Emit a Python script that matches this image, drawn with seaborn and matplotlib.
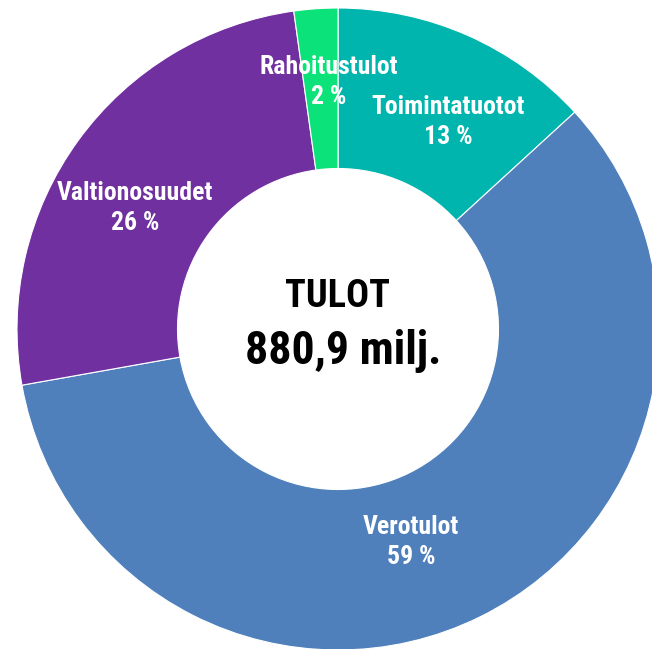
import seaborn as sns
import matplotlib.pyplot as plt
from matplotlib import font_manager as fm

# Data (shares of income, percent)
categories = ["Toimintatuotot", "Verotulot", "Valtionosuudet", "Rahoitustulot"]
shares = [13.2, 59.0, 25.6, 2.2]
colors = ["#00B5AD", "#4F80BB", "#7030A0", "#0BE27A"]
title_lines = ["TULOT", "880,9 milj."]

sns.set_theme(style="white")

# pick a condensed font if one is installed
names = {f.name for f in fm.fontManager.ttflist}
font = "DejaVu Sans"
stretch = "condensed"
for cand in ["Roboto Condensed", "Liberation Sans Narrow", "Open Sans Condensed"]:
    if cand in names:
        font = cand
        break
plt.rcParams["font.family"] = [font, "DejaVu Sans"]

fig = plt.figure(figsize=(6.52, 6.49), dpi=100)
# circle centre at (338, 329) px, outer radius 321 px
ax = fig.add_axes([17 / 652, -1 / 649, 642 / 652, 642 / 649])

wedges, _ = ax.pie(
    shares,
    colors=colors,
    startangle=90,
    counterclock=False,
    radius=1.0,
    wedgeprops=dict(width=0.5, edgecolor="white", linewidth=0.8),
)
ax.set_xlim(-1, 1)
ax.set_ylim(-1, 1)
ax.axis("off")

# label positions in data units (px offsets from centre / 321)
label_pos = [(0.343, 0.645), (0.227, -0.664), (-0.632, 0.377), (-0.028, 0.769)]
for name, val, (x, y) in zip(categories, shares, label_pos):
    ax.text(x, y, f"{name}\n{val:.0f} %", ha="center", va="center",
            color="white", fontsize=18.5, fontweight="bold",
            fontstretch=stretch, linespacing=1.35)

ax.text(0.0, 0.10, title_lines[0], ha="center", va="center", color="black",
        fontsize=27.5, fontweight="bold", fontstretch=stretch)
ax.text(0.017, -0.07, title_lines[1], ha="center", va="center", color="black",
        fontsize=33, fontweight="bold", fontstretch=stretch)

fig.savefig("out.png", dpi=100)
